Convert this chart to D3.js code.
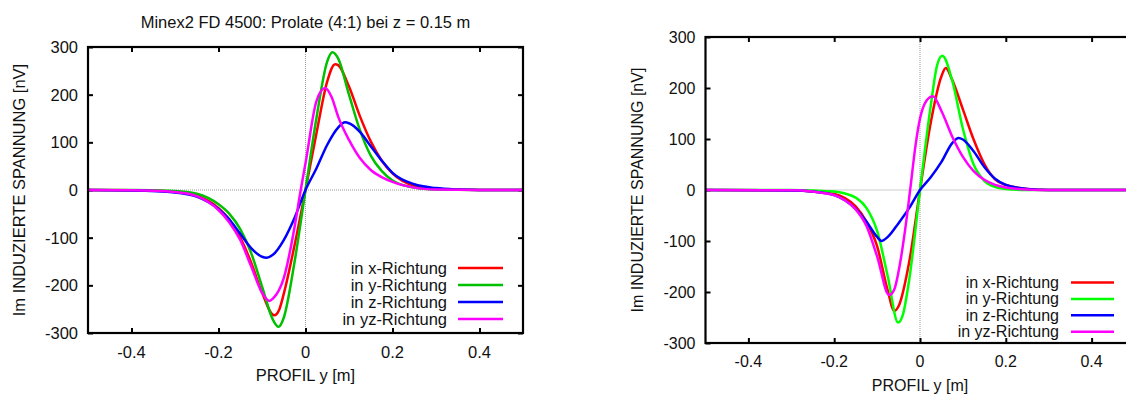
<!DOCTYPE html>
<html><head><meta charset="utf-8">
<script src="https://cdn.jsdelivr.net/npm/d3@7"></script>
<style>
html,body{margin:0;padding:0;background:#fff;}
svg{display:block;font-family:"Liberation Sans",Arial,sans-serif;}
</style></head>
<body>
<svg id="chart" width="1126" height="394"></svg>
<script>
// ---- data ----
const title = "Minex2 FD 4500: Prolate (4:1) bei z = 0.15 m";
const xTicks = [-0.4, -0.2, 0, 0.2, 0.4];
const yTicks = [-300, -200, -100, 0, 100, 200, 300];
const xTickLabels = ["-0.4", "-0.2", "0", "0.2", "0.4"];
const yTickLabels = ["-300", "-200", "-100", "0", "100", "200", "300"];
const xLabel = "PROFIL y [m]";
const yLabel = "Im INDUZIERTE SPANNUNG [nV]";
const seriesNames = ["in x-Richtung", "in y-Richtung", "in z-Richtung", "in yz-Richtung"];

// left panel
const leftX = [[-0.5,0],[-0.4,-0.5],[-0.35,-1.5],[-0.3,-4],[-0.25,-12],[-0.2,-38],[-0.175,-62],[-0.15,-100],[-0.125,-152],[-0.1,-215],[-0.072,-263],[-0.06,-250],[-0.05,-218],[-0.025,-115],[0,0],[0.025,118],[0.05,228],[0.068,264],[0.075,262],[0.1,217],[0.125,155],[0.15,102],[0.175,62],[0.2,35],[0.25,9],[0.3,2.5],[0.35,0.8],[0.4,0],[0.5,0]];
const leftY = [[-0.5,0],[-0.4,0],[-0.3,-2],[-0.25,-8],[-0.2,-30],[-0.175,-50],[-0.15,-82],[-0.125,-132],[-0.1,-202],[-0.075,-272],[-0.062,-287],[-0.05,-268],[-0.025,-150],[0,0],[0.025,150],[0.05,270],[0.062,289],[0.075,276],[0.1,200],[0.125,126],[0.15,72],[0.175,40],[0.2,20],[0.25,5],[0.3,1],[0.4,0],[0.5,0]];
const leftZ = [[-0.5,0],[-0.4,-1],[-0.3,-5],[-0.25,-14],[-0.2,-40],[-0.175,-62],[-0.15,-92],[-0.125,-122],[-0.1,-140],[-0.089,-142],[-0.075,-136],[-0.05,-105],[-0.025,-58],[0,0],[0.025,45],[0.05,95],[0.075,131],[0.091,142],[0.1,140],[0.125,122],[0.15,92],[0.175,62],[0.2,36],[0.25,12],[0.3,4],[0.35,1],[0.4,0],[0.5,0]];
const leftYZ = [[-0.5,0],[-0.4,-0.5],[-0.3,-4],[-0.25,-13],[-0.2,-42],[-0.175,-68],[-0.15,-105],[-0.125,-160],[-0.1,-215],[-0.083,-233],[-0.075,-228],[-0.05,-185],[-0.025,-77],[-0.011,0],[0,56],[0.025,186],[0.045,214],[0.06,195],[0.075,154],[0.1,105],[0.125,67],[0.15,42],[0.175,27],[0.2,17],[0.25,5],[0.3,1],[0.4,0],[0.5,0]];

// right panel
const rightX = [[-0.5,0],[-0.3,-0.5],[-0.25,-3],[-0.2,-8],[-0.175,-16],[-0.15,-32],[-0.125,-62],[-0.1,-110],[-0.075,-198],[-0.06,-237],[-0.05,-228],[-0.025,-140],[0,0],[0.025,132],[0.05,223],[0.06,239],[0.075,216],[0.1,158],[0.125,99],[0.15,51],[0.175,21],[0.2,10],[0.25,2],[0.3,0],[0.5,0]];
const rightY = [[-0.5,0],[-0.3,0],[-0.25,-1],[-0.2,-3],[-0.175,-7],[-0.15,-15],[-0.125,-35],[-0.1,-80],[-0.075,-170],[-0.051,-260],[-0.04,-245],[-0.025,-175],[0,0],[0.025,165],[0.04,245],[0.052,263],[0.075,215],[0.1,120],[0.125,50],[0.15,18],[0.175,6],[0.2,2],[0.25,0],[0.5,0]];
const rightZ = [[-0.5,0],[-0.3,-1],[-0.25,-3],[-0.2,-10],[-0.175,-20],[-0.15,-37],[-0.125,-62],[-0.1,-92],[-0.09,-100],[-0.075,-92],[-0.05,-65],[-0.025,-35],[0,0],[0.025,25],[0.05,55],[0.075,92],[0.09,102],[0.1,99],[0.125,76],[0.15,45],[0.175,22],[0.2,10],[0.25,2],[0.3,0],[0.5,0]];
const rightYZ = [[-0.5,0],[-0.3,-0.5],[-0.25,-3],[-0.2,-10],[-0.175,-20],[-0.15,-38],[-0.125,-70],[-0.1,-130],[-0.072,-206],[-0.06,-195],[-0.05,-160],[-0.035,-80],[-0.023,0],[-0.01,90],[0,140],[0.015,175],[0.03,184],[0.05,155],[0.075,105],[0.1,65],[0.125,37],[0.15,20],[0.175,10],[0.2,5],[0.25,1],[0.3,0],[0.5,0]];

const leftColors = ["#ff0000", "#00c000", "#0000ff", "#ff00ff"];
const rightColors = ["#ff0000", "#00ff00", "#0000ff", "#ff00ff"];

// ---- drawing ----
const svg = d3.select("#chart");

function panel(cfg) {
  const g = svg.append("g");
  const x = d3.scaleLinear().domain([-0.5, 0.5]).range([cfg.left, cfg.right]);
  const y = d3.scaleLinear().domain([-300, 300]).range([cfg.bottom, cfg.top]);
  const fs = cfg.fs;
  const clipId = "clip" + cfg.id;
  svg.append("clipPath").attr("id", clipId).append("rect")
    .attr("x", cfg.left).attr("y", cfg.top)
    .attr("width", cfg.right - cfg.left).attr("height", cfg.bottom - cfg.top);

  // zero lines
  g.append("line").attr("x1", x(-0.5)).attr("x2", x(0.5)).attr("y1", y(0)).attr("y2", y(0))
    .attr("stroke", "#999").attr("stroke-width", 1).attr("stroke-dasharray", "1,1");
  g.append("line").attr("x1", x(0)).attr("x2", x(0)).attr("y1", y(-300)).attr("y2", y(300))
    .attr("stroke", "#999").attr("stroke-width", 1).attr("stroke-dasharray", "1,1");

  // axes with inward ticks
  const ax = [
    [d3.axisBottom(x), cfg.bottom, 0, "x"],
    [d3.axisTop(x), cfg.top, 0, "x"],
    [d3.axisLeft(y), 0, cfg.left, "y"],
    [d3.axisRight(y), 0, cfg.right, "y"]
  ];
  ax.forEach(([a, ty, tx, t]) => {
    a.tickValues(t === "x" ? xTicks : yTicks).tickSizeInner(-5).tickSizeOuter(0).tickFormat("");
    const ag = g.append("g").attr("transform", `translate(${tx},${ty})`).call(a);
    ag.select(".domain").remove();
    ag.selectAll(".tick line").attr("stroke", "#000").attr("stroke-width", 2);
  });

  // tick labels
  g.selectAll(".xl").data(xTicks).enter().append("text")
    .attr("x", d => x(d)).attr("y", cfg.bottom + cfg.xtl)
    .attr("text-anchor", "middle").attr("dominant-baseline", "central")
    .attr("font-size", fs).attr("fill", "#111").text((d, i) => xTickLabels[i]);
  g.selectAll(".yl").data(yTicks).enter().append("text")
    .attr("x", cfg.left - 10).attr("y", d => y(d))
    .attr("text-anchor", "end").attr("dominant-baseline", "central")
    .attr("font-size", fs).attr("fill", "#111").text((d, i) => yTickLabels[i]);

  // curves
  const line = d3.line().x(d => x(d[0])).y(d => y(d[1])).curve(d3.curveMonotoneX);
  const cg = g.append("g").attr("clip-path", `url(#${clipId})`);
  cfg.series.forEach((s, i) => {
    cg.append("path").datum(s).attr("d", line).attr("fill", "none")
      .attr("stroke", cfg.colors[i]).attr("stroke-width", 2.5).attr("stroke-linejoin", "round");
  });

  // frame
  g.append("rect").attr("x", cfg.left).attr("y", cfg.top)
    .attr("width", cfg.right - cfg.left).attr("height", cfg.bottom - cfg.top)
    .attr("fill", "none").attr("stroke", "#000").attr("stroke-width", 2.2);

  // legend
  seriesNames.forEach((n, i) => {
    const ly = cfg.legY + i * cfg.legDy;
    g.append("text").attr("x", cfg.legTextX).attr("y", ly).attr("text-anchor", "end")
      .attr("dominant-baseline", "central").attr("font-size", fs).attr("fill", "#111").text(n);
    g.append("line").attr("x1", cfg.legL1).attr("x2", cfg.legL2).attr("y1", ly).attr("y2", ly)
      .attr("stroke", cfg.colors[i]).attr("stroke-width", 2.5);
  });

  // axis labels
  g.append("text").attr("x", x(0)).attr("y", cfg.xLabY).attr("text-anchor", "middle")
    .attr("dominant-baseline", "central").attr("font-size", fs).attr("fill", "#111").text(xLabel);
  g.append("text").attr("transform", `translate(${cfg.yLabX},${(cfg.top + cfg.bottom) / 2}) rotate(-90)`)
    .attr("text-anchor", "middle").attr("dominant-baseline", "central")
    .attr("font-size", fs).attr("fill", "#111").text(yLabel);
  if (cfg.title) {
    g.append("text").attr("x", (cfg.left + cfg.right) / 2).attr("y", cfg.titleY).attr("text-anchor", "middle")
      .attr("dominant-baseline", "central").attr("font-size", fs).attr("fill", "#111").text(cfg.title);
  }
}

panel({id: "L", left: 88, right: 523, top: 47, bottom: 333, fs: 16.5, xtl: 19,
  series: [leftX, leftY, leftZ, leftYZ], colors: leftColors,
  legY: 268, legDy: 17, legTextX: 447, legL1: 458, legL2: 503,
  xLabY: 375, yLabX: 19, title: title, titleY: 22});

panel({id: "R", left: 705.5, right: 1134.5, top: 37, bottom: 343, fs: 16, xtl: 18,
  series: [rightX, rightY, rightZ, rightYZ], colors: rightColors,
  legY: 282.5, legDy: 16.4, legTextX: 1059, legL1: 1071, legL2: 1114,
  xLabY: 385.5, yLabX: 637.5});
</script>
</body></html>
